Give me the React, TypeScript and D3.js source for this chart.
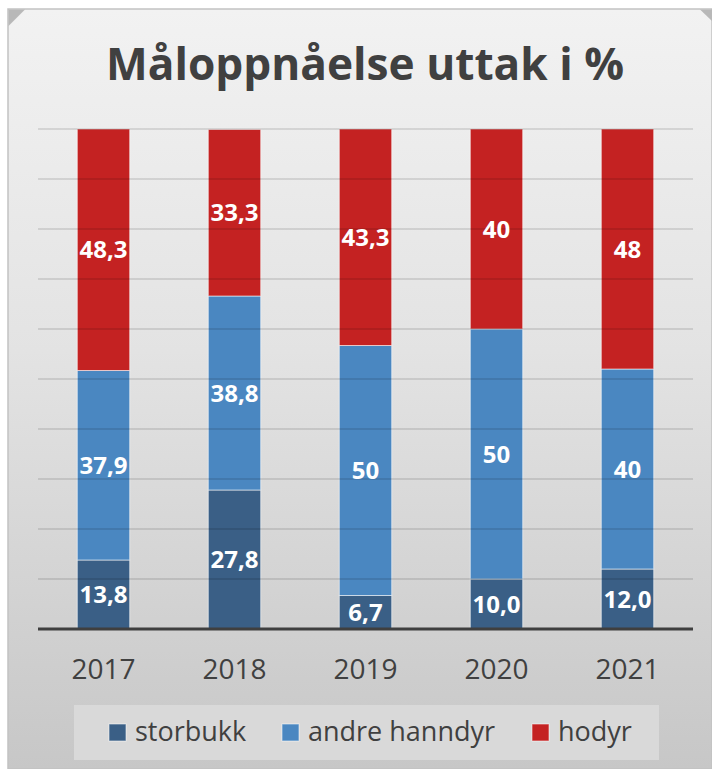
import React from "react";
import * as d3 from "d3";

const years = ["2017", "2018", "2019", "2020", "2021"];
const storbukk = [13.8, 27.8, 6.7, 10.0, 12.0];
const andreHanndyr = [37.9, 38.8, 50, 50, 40];
const hodyr = [48.3, 33.3, 43.3, 40, 48];
const storbukkLabels = ["13,8", "27,8", "6,7", "10,0", "12,0"];
const andreLabels = ["37,9", "38,8", "50", "50", "40"];
const hodyrLabels = ["48,3", "33,3", "43,3", "40", "48"];
const seriesNames = ["storbukk", "andre hanndyr", "hodyr"];
const gridTicks = [10, 20, 30, 40, 50, 60, 70, 80, 90, 100];

const colors = ["#3a5f86", "#4a87c1", "#c42222"];
const W = 712;
const H = 769;
const FONT = "'Open Sans', 'DejaVu Sans', sans-serif";

export default function App() {
  const x = d3.scaleBand().domain(years).range([38, 693]).paddingInner(0.6).paddingOuter(0.3);
  const y = d3.scaleLinear().domain([0, 100]).range([629, 129]);

  const rows = years.map((yr, i) => ({
    year: yr,
    storbukk: storbukk[i],
    andre: andreHanndyr[i],
    hodyr: hodyr[i],
  }));
  const stack = d3.stack<any>().keys(["storbukk", "andre", "hodyr"]);
  const stacked = stack(rows);
  const labels = [storbukkLabels, andreLabels, hodyrLabels];

  const legendX = [109, 282, 532];

  return (
    <svg width={W} height={H} style={{ position: "absolute", left: 0, top: 0 }}>
      <defs>
        <linearGradient id="bg" x1="0" y1="0" x2="0" y2="1">
          <stop offset="0" stopColor="#f2f2f2" />
          <stop offset="0.45" stopColor="#e3e3e3" />
          <stop offset="1" stopColor="#c7c7c7" />
        </linearGradient>
      </defs>
      <rect x={0} y={0} width={W} height={H} fill="#ffffff" />
      <rect x={8} y={9} width={W - 8} height={H - 9} fill="url(#bg)" stroke="#c2c2c2" strokeWidth={1.5} />
      <path d="M8.5,9.5 L25,9.5 L8.5,26 Z" fill="#b8b8b8" />
      <path d="M700,9.5 L712,9.5 L712,21 Z" fill="#b8b8b8" />

      <text
        x={365}
        y={80}
        textAnchor="middle"
        fontFamily={FONT}
        fontWeight={700}
        fontSize={45}
        fill="#404040"
        textLength={518}
        lengthAdjust="spacingAndGlyphs"
      >
        Måloppnåelse uttak i %
      </text>

      {stacked.map((s, si) => (
        <g key={si}>
          {s.map((d, i) => (
            <rect
              key={i}
              x={x(years[i])!}
              y={y(d[1])}
              width={x.bandwidth()}
              height={y(d[0]) - y(d[1])}
              fill={colors[si]}
              stroke="rgba(255,255,255,0.55)"
              strokeWidth={1}
            />
          ))}
        </g>
      ))}

      {gridTicks.map((t) => (
        <line key={t} x1={38} x2={693} y1={y(t)} y2={y(t)} stroke="#000" strokeOpacity={0.14} strokeWidth={1.6} />
      ))}
      <line x1={38} x2={693} y1={y(0)} y2={y(0)} stroke="#3f3f3f" strokeWidth={3} />

      {stacked.map((s, si) => (
        <g key={"l" + si}>
          {s.map((d, i) => (
            <text
              key={i}
              x={x(years[i])! + x.bandwidth() / 2}
              y={(y(d[0]) + y(d[1])) / 2 + 8.5}
              textAnchor="middle"
              fontFamily={FONT}
              fontWeight={700}
              fontSize={24}
              fill="#ffffff"
            >
              {labels[si][i]}
            </text>
          ))}
        </g>
      ))}

      {years.map((yr) => (
        <text
          key={yr}
          x={x(yr)! + x.bandwidth() / 2}
          y={679}
          textAnchor="middle"
          fontFamily={FONT}
          fontSize={28}
          fill="#404040"
        >
          {yr}
        </text>
      ))}

      <rect x={74} y={705} width={585} height={55} fill="#d9d9d9" />
      {seriesNames.map((n, i) => (
        <g key={n}>
          <rect x={legendX[i]} y={724} width={17} height={17} fill={colors[i]} stroke="rgba(255,255,255,0.55)" strokeWidth={1} />
          <text x={legendX[i] + 26} y={741} fontFamily={FONT} fontSize={27} fill="#404040">
            {n}
          </text>
        </g>
      ))}
    </svg>
  );
}
